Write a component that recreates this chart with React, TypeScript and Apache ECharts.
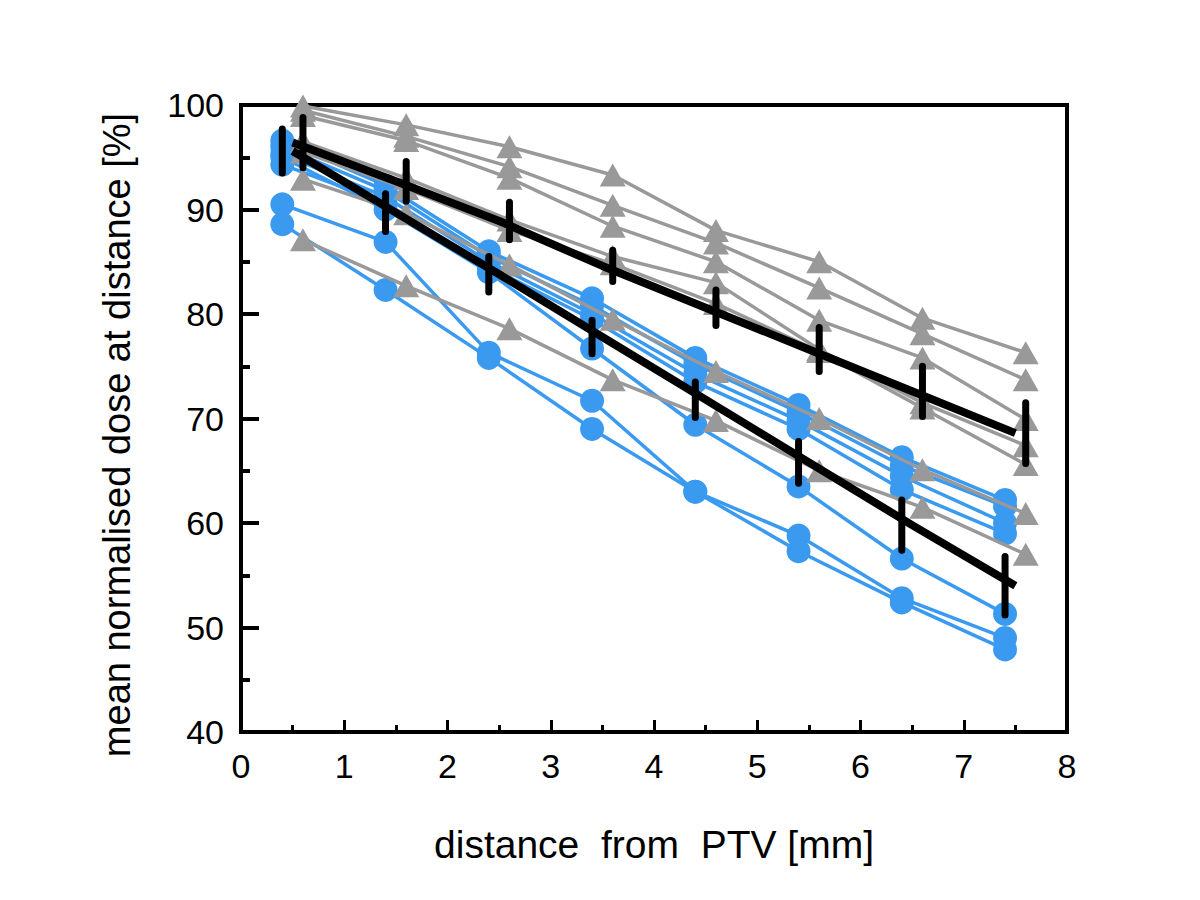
import React, { useEffect, useRef } from "react";
import * as echarts from "echarts";

const xBlue = [0.4, 1.4, 2.4, 3.4, 4.4, 5.4, 6.4, 7.4];
const xGray = [0.6, 1.6, 2.6, 3.6, 4.6, 5.6, 6.6, 7.6];
const xMean = [0.5, 1.5, 2.5, 3.5, 4.5, 5.5, 6.5, 7.5];

const blueSeries = [
  [96.6, 92.3, 86.0, 81.5, 75.8, 71.3, 66.3, 62.2],
  [96.0, 91.8, 85.5, 80.8, 75.2, 70.6, 65.5, 61.6],
  [95.3, 91.2, 85.0, 80.0, 74.3, 69.8, 64.5, 60.0],
  [94.3, 90.6, 84.5, 79.5, 73.5, 69.0, 63.2, 59.0],
  [95.0, 90.0, 84.0, 76.7, 69.4, 63.5, 56.6, 51.3],
  [90.5, 86.9, 76.3, 71.7, 63.0, 58.8, 52.8, 49.0],
  [88.6, 82.3, 75.8, 69.0, 63.0, 57.3, 52.4, 47.9],
];

const graySeries = [
  [99.9, 98.1, 96.0, 93.3, 88.0, 85.0, 79.6, 76.3],
  [99.5, 97.0, 94.1, 90.4, 86.8, 82.5, 78.1, 73.7],
  [99.0, 96.6, 93.0, 88.4, 85.0, 79.4, 75.8, 69.9],
  [96.5, 93.0, 89.0, 85.5, 83.0, 76.6, 71.5, 67.4],
  [95.5, 92.0, 88.0, 84.8, 81.0, 76.4, 71.0, 65.6],
  [92.9, 89.6, 84.7, 79.5, 74.5, 70.0, 65.1, 60.9],
  [87.1, 82.7, 78.6, 73.7, 69.8, 65.0, 61.5, 57.0],
];

const blueMean = [95.6, 89.7, 83.8, 77.8, 71.8, 65.8, 59.8, 54.0];
const blueErr = [2.1, 1.8, 1.7, 1.6, 1.7, 2.0, 2.4, 2.8];
const grayMean = [96.4, 92.7, 88.9, 84.6, 80.6, 76.6, 72.6, 68.6];
const grayErr = [2.4, 1.9, 1.8, 1.5, 1.7, 2.1, 2.4, 2.9];

const xTitle = "distance  from  PTV [mm]";
const yTitle = "mean normalised dose at distance [%]";

const BLUE = "#3a9af0";
const GRAY = "#999999";
const FONT = "Liberation Sans, Arial, sans-serif";

function errorBarSeries(xs: number[], means: number[], errs: number[]) {
  return {
    type: "custom",
    z: 10,
    data: xs.map((x, i) => [x, means[i] - errs[i], means[i] + errs[i]]),
    renderItem: (params: any, api: any) => {
      const lo = api.coord([api.value(0), api.value(1)]);
      const hi = api.coord([api.value(0), api.value(2)]);
      return {
        type: "line",
        shape: { x1: lo[0], y1: lo[1], x2: hi[0], y2: hi[1] },
        style: { stroke: "#000", lineWidth: 7, lineCap: "round" },
      };
    },
  };
}

export default function App() {
  const ref = useRef<HTMLDivElement>(null);
  useEffect(() => {
    if (!ref.current) return;
    const chart = echarts.init(ref.current, null, { renderer: "svg" });
    const series: any[] = [];
    blueSeries.forEach((vals) => {
      series.push({
        type: "line",
        data: xBlue.map((x, i) => [x, vals[i]]),
        symbol: "circle",
        symbolSize: 24,
        showSymbol: true,
        lineStyle: { color: BLUE, width: 3.5 },
        itemStyle: { color: BLUE },
        z: 2,
      });
    });
    graySeries.forEach((vals) => {
      series.push({
        type: "line",
        data: xGray.map((x, i) => [x, vals[i]]),
        symbol: "triangle",
        symbolSize: [26, 23],
        showSymbol: true,
        lineStyle: { color: GRAY, width: 3.5 },
        itemStyle: { color: GRAY },
        z: 3,
      });
    });
    [blueMean, grayMean].forEach((vals) => {
      series.push({
        type: "line",
        data: xMean.map((x, i) => [x, vals[i]]),
        symbol: "none",
        lineStyle: { color: "#000", width: 8 },
        z: 9,
      });
    });
    series.push(errorBarSeries(xBlue, blueMean, blueErr));
    series.push(errorBarSeries(xGray, grayMean, grayErr));

    chart.setOption({
      animation: false,
      backgroundColor: "#fff",
      textStyle: { fontFamily: FONT },
      grid: {
        left: 241,
        right: 133,
        top: 105,
        bottom: 168,
        show: true,
        borderColor: "#000",
        borderWidth: 4,
        backgroundColor: "transparent",
      },
      graphic: [
        {
          type: "text",
          x: 117,
          y: 435,
          rotation: Math.PI / 2,
          style: {
            text: yTitle,
            fontSize: 38,
            fontFamily: FONT,
            fill: "#000",
            align: "center",
            verticalAlign: "middle",
          },
        },
      ],
      xAxis: {
        type: "value",
        min: 0,
        max: 8,
        interval: 1,
        name: xTitle,
        nameLocation: "middle",
        nameGap: 93,
        nameTextStyle: { fontSize: 39, color: "#000", fontFamily: FONT },
        axisLine: { show: true, lineStyle: { color: "#000", width: 4 } },
        axisTick: { show: true, inside: true, length: 12, lineStyle: { color: "#000", width: 3 } },
        minorTick: { show: true, splitNumber: 2, length: 7, lineStyle: { color: "#000", width: 3 } },
        axisLabel: { fontSize: 34, color: "#000", margin: 17, fontFamily: FONT },
        splitLine: { show: false },
      },
      yAxis: {
        type: "value",
        min: 40,
        max: 100,
        interval: 10,
        axisLine: { show: true, lineStyle: { color: "#000", width: 4 } },
        axisTick: { show: true, inside: true, length: 18, lineStyle: { color: "#000", width: 4 } },
        minorTick: { show: true, splitNumber: 2, length: 9, lineStyle: { color: "#000", width: 4 } },
        axisLabel: { fontSize: 34, color: "#000", margin: 17, fontFamily: FONT },
        splitLine: { show: false },
      },
      series,
    });
    return () => chart.dispose();
  }, []);
  return (
    <div
      ref={ref}
      style={{ position: "absolute", left: 0, top: 0, width: 1200, height: 900, background: "#fff" }}
    />
  );
}
